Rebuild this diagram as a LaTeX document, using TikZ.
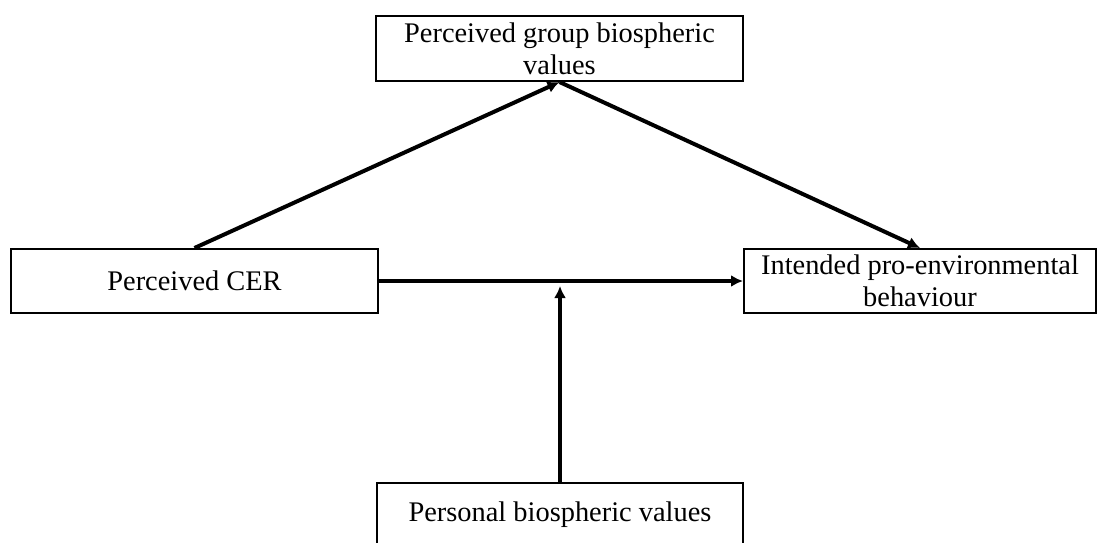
\documentclass[tikz,border=0pt]{standalone}
\usepackage{fontspec}
\setmainfont{Liberation Serif}
\usetikzlibrary{arrows.meta}
\begin{document}
\begin{tikzpicture}[x=0.5pt, y=-0.5pt,
  varbox/.style={draw, line width=1pt, align=center, inner sep=0pt,
    font=\fontsize{14.2}{16}\selectfont},
  path/.style={-{Latex[length=6pt,width=6pt]}, line width=2pt}]
\useasboundingbox (0,0) rectangle (1097,542);
\clip (0,0) rectangle (1097,542);
\node[varbox, minimum width=183.5pt, minimum height=32.5pt] (grp) at (559.5, 48.5) {Perceived group biospheric\\values};
\node[varbox, minimum width=183.5pt, minimum height=32pt] (cer) at (194.5, 281) {Perceived CER};
\node[varbox, minimum width=176pt, minimum height=32pt] (beh) at (920, 281) {Intended pro-environmental\\behaviour};
\node[varbox, minimum width=183pt, minimum height=32pt] (pers) at (560, 515) {Personal biospheric values};
\coordinate (join) at (560, 286);
\draw[path] (cer.north) -- (grp.south);
\draw[path] (grp.south) -- (beh.north);
\draw[path] (cer.east) -- (beh.west);
\draw[path] (pers.north) -- (join);
\end{tikzpicture}
\end{document}
